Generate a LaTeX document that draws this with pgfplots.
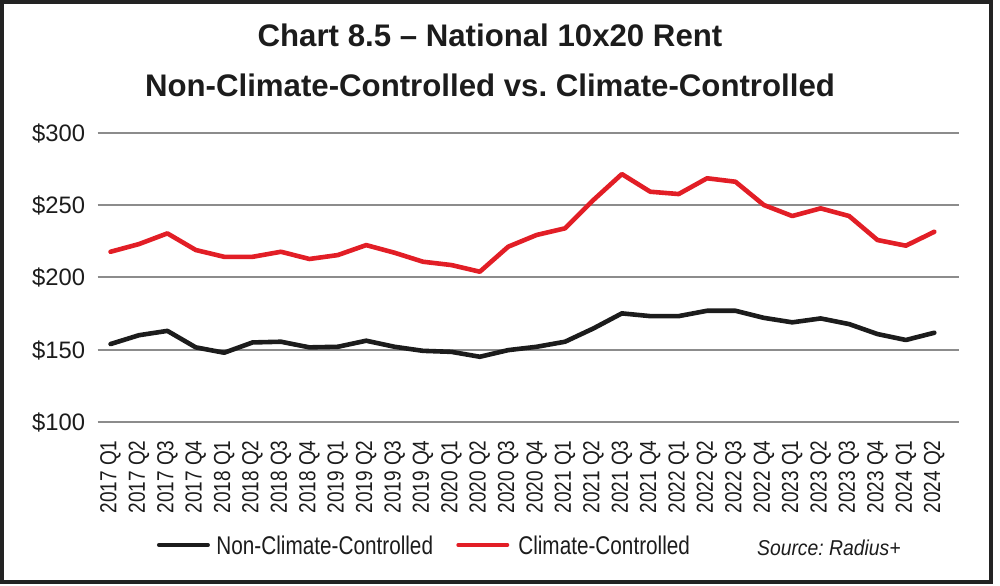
\documentclass[border=0pt]{standalone}
\usepackage{pgfplots}
\usepackage{pgfplotstable}
\pgfplotsset{compat=1.18}
\usepackage{fontspec}
\setmainfont{Liberation Sans}
\frenchspacing
\definecolor{ccred}{RGB}{226,30,38}
\definecolor{nccblack}{RGB}{28,28,28}
\definecolor{gridgray}{RGB}{140,140,140}
\definecolor{framegray}{RGB}{35,35,35}
\newcommand{\xl}[1]{\scalebox{0.82}[1]{#1}}
\newcommand{\legtxt}[1]{\scalebox{0.81}[1]{#1}}

\pgfplotstableread{
x ncc cc
0 153.9 217.7
1 160.0 223.0
2 163.0 230.4
3 151.6 218.9
4 147.9 214.2
5 155.0 214.2
6 155.5 217.7
7 151.6 212.7
8 152.0 215.4
9 156.2 222.3
10 152.0 217.0
11 149.2 210.8
12 148.5 208.5
13 145.1 203.9
14 149.7 221.2
15 152.0 229.3
16 155.5 233.9
17 164.7 253.5
18 175.1 271.4
19 173.2 259.2
20 173.2 257.6
21 176.9 268.5
22 176.9 266.1
23 172.0 250.0
24 168.9 242.4
25 171.6 247.7
26 167.7 242.4
27 160.8 225.8
28 156.7 221.9
29 161.7 231.5
}\rentdata

\begin{document}
\begin{tikzpicture}
\path[use as bounding box] (0pt,0pt) rectangle (500pt,292.5pt);
\draw[line width=1.75pt, framegray] (0.9pt,1.5pt) rectangle (495.5pt,291.6pt);
\node[anchor=base, inner sep=0pt, font=\bfseries\fontsize{15.6}{18}\selectfont, text=nccblack] at (245pt,269.15pt) {Chart 8.5 – National 10x20 Rent};
\node[anchor=base, inner sep=0pt, font=\bfseries\fontsize{15.6}{18}\selectfont, text=nccblack] at (245pt,244.15pt) {Non-Climate-Controlled vs.\ Climate-Controlled};
\node[anchor=base west, inner sep=0pt, font=\itshape\fontsize{10.75}{13}\selectfont, text=nccblack] at (378.35pt,15pt) {\scalebox{0.9}[1]{Source: Radius+}};
\begin{axis}[
  at={(48.75pt,81.5pt)}, anchor=south west,
  scale only axis, width=430.75pt, height=144.65pt,
  xmin=-0.46, xmax=29.87, ymin=100, ymax=300,
  axis line style={draw=none},
  tick style={draw=none},
  major tick length=0pt,
  ymajorgrids,
  grid style={gridgray, line width=1pt},
  ytick={100,150,200,250,300},
  yticklabels={\$100,\$150,\$200,\$250,\$300},
  yticklabel style={anchor=base east, inner sep=0pt, xshift=-6pt, yshift=-4.25pt, font=\fontsize{11.9}{13}\selectfont, text=nccblack},
  xtick={0,...,29},
  xticklabels={\xl{2017 Q1},\xl{2017 Q2},\xl{2017 Q3},\xl{2017 Q4},
    \xl{2018 Q1},\xl{2018 Q2},\xl{2018 Q3},\xl{2018 Q4},
    \xl{2019 Q1},\xl{2019 Q2},\xl{2019 Q3},\xl{2019 Q4},
    \xl{2020 Q1},\xl{2020 Q2},\xl{2020 Q3},\xl{2020 Q4},
    \xl{2021 Q1},\xl{2021 Q2},\xl{2021 Q3},\xl{2021 Q4},
    \xl{2022 Q1},\xl{2022 Q2},\xl{2022 Q3},\xl{2022 Q4},
    \xl{2023 Q1},\xl{2023 Q2},\xl{2023 Q3},\xl{2023 Q4},
    \xl{2024 Q1},\xl{2024 Q2}},
  xticklabel style={yshift=-9pt, rotate=90, anchor=east, inner sep=0pt, font=\fontsize{11.6}{13}\selectfont, text=nccblack},
  legend columns=2,
  legend style={at={(axis description cs:0.069,-0.425)}, anchor=west, draw=none, fill=none,
    inner sep=0pt, outer sep=0pt, nodes={inner sep=0pt, text depth=0pt}, cells={anchor=west},
    column sep=0pt, font=\fontsize{12.8}{15}\selectfont, text=nccblack},
  legend image code/.code={\draw[#1, line width=2pt, line cap=round] (0pt,0pt) -- (24.5pt,0pt);},
]
\addplot[nccblack, line width=2.3pt, line join=round, line cap=round] table[x=x, y=ncc] {\rentdata};
\addlegendentry{\hspace{3.25pt}\legtxt{Non-Climate-Controlled}\kern11.6pt\null}
\addplot[ccred, line width=2.3pt, line join=round, line cap=round] table[x=x, y=cc] {\rentdata};
\addlegendentry{\hspace{4.5pt}\legtxt{Climate-Controlled}}
\end{axis}
\end{tikzpicture}
\end{document}
